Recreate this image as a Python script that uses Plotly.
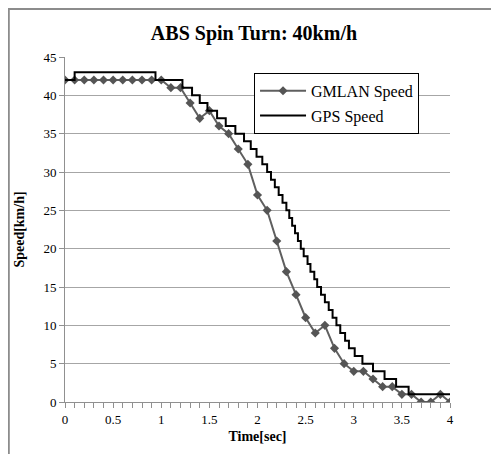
import plotly.graph_objects as go

# GMLAN speed samples (every 0.1 s)
gm_time = [round(i * 0.1, 1) for i in range(41)]
gm_speed = [42, 42, 42, 42, 42, 42, 42, 42, 42, 42, 42,
            41, 41, 39, 37, 38, 36, 35, 33, 31, 27,
            25, 21, 17, 14, 11, 9, 10, 7, 5, 4,
            4, 3, 2, 2, 1, 1, 0, 0, 1, 0]

# GPS speed change points (step line)
gps_time = [0.0, 0.10, 0.94, 1.22, 1.32, 1.40, 1.48, 1.58, 1.67, 1.77,
            1.86, 1.93, 1.99, 2.05, 2.10, 2.14, 2.18, 2.22, 2.26, 2.30,
            2.33, 2.36, 2.39, 2.42, 2.45, 2.48, 2.52, 2.55, 2.59, 2.62,
            2.66, 2.70, 2.74, 2.78, 2.82, 2.86, 2.91, 2.95, 3.01, 3.09,
            3.20, 3.32, 3.44, 3.57, 4.0]
gps_speed = [42, 43, 42, 41, 40, 39, 38, 37, 36, 35,
             34, 33, 32, 31, 30, 29, 28, 27, 26, 25,
             24, 23, 22, 21, 20, 19, 18, 17, 16, 15,
             14, 13, 12, 11, 10, 9, 8, 7, 6, 5,
             4, 3, 2, 1, 1]

x_ticks = [0, 0.5, 1, 1.5, 2, 2.5, 3, 3.5, 4]
x_tick_text = ["0", "0.5", "1", "1.5", "2", "2.5", "3", "3.5", "4"]
y_ticks = [0, 5, 10, 15, 20, 25, 30, 35, 40, 45]

serif = "Liberation Serif, Times New Roman, serif"

fig = go.Figure()
fig.add_trace(go.Scatter(
    x=gm_time, y=gm_speed, name="GMLAN Speed", mode="lines+markers",
    legendgroup="a",
    line=dict(color="#5f5f5f", width=2),
    marker=dict(symbol="diamond", size=7, color="#555555"),
))
fig.add_trace(go.Scatter(
    x=gps_time, y=gps_speed, name="GPS Speed", mode="lines",
    legendgroup="b",
    line=dict(color="#000000", width=2, shape="hv"),
))

fig.update_layout(
    width=491, height=446,
    margin=dict(l=57, r=49, t=49, b=52),
    paper_bgcolor="white", plot_bgcolor="white",
    font=dict(family=serif, size=12, color="#000000"),
    title=dict(text="<b>ABS Spin Turn: 40km/h</b>", x=0.501, xanchor="center",
               y=0.944, yanchor="middle", font=dict(family=serif, size=20, color="#000000")),
    showlegend=True,
    legend=dict(x=0.491, y=0.954, xanchor="left", yanchor="top",
                bgcolor="white", bordercolor="#000000", borderwidth=1,
                font=dict(family=serif, size=16, color="#000000"),
                tracegroupgap=1, itemwidth=46),
)
fig.update_xaxes(
    range=[0, 4], tickvals=x_ticks, ticktext=x_tick_text,
    showgrid=False, showline=True, linecolor="#909090", linewidth=1,
    ticks="outside", ticklen=5, tickcolor="#909090",
    minor=dict(dtick=0.1, ticks="outside", ticklen=5, tickcolor="#909090", showgrid=False),
    tickfont=dict(family=serif, size=13, color="#000000"),
    title=dict(text="<b>Time[sec]</b>", font=dict(family=serif, size=14, color="#000000"), standoff=5),
    zeroline=False,
)
fig.update_yaxes(
    range=[0, 45], tickvals=y_ticks,
    showgrid=True, gridcolor="#a6a6a6", gridwidth=1,
    showline=True, linecolor="#909090", linewidth=1,
    ticks="outside", ticklen=5, tickcolor="#909090",
    tickfont=dict(family=serif, size=13, color="#000000"),
    title=dict(text="<b>Speed[km/h]</b>", font=dict(family=serif, size=14, color="#000000"), standoff=15),
    zeroline=False,
)
# outer chart border (left and top visible)
fig.add_shape(type="line", xref="paper", yref="paper", x0=-0.146, x1=-0.146, y0=-0.2, y1=1.142,
              line=dict(color="#8c8c8c", width=2))
fig.add_shape(type="line", xref="paper", yref="paper", x0=-0.146, x1=1.2, y0=1.139, y1=1.139,
              line=dict(color="#8c8c8c", width=2))

fig.write_html("out.html")
